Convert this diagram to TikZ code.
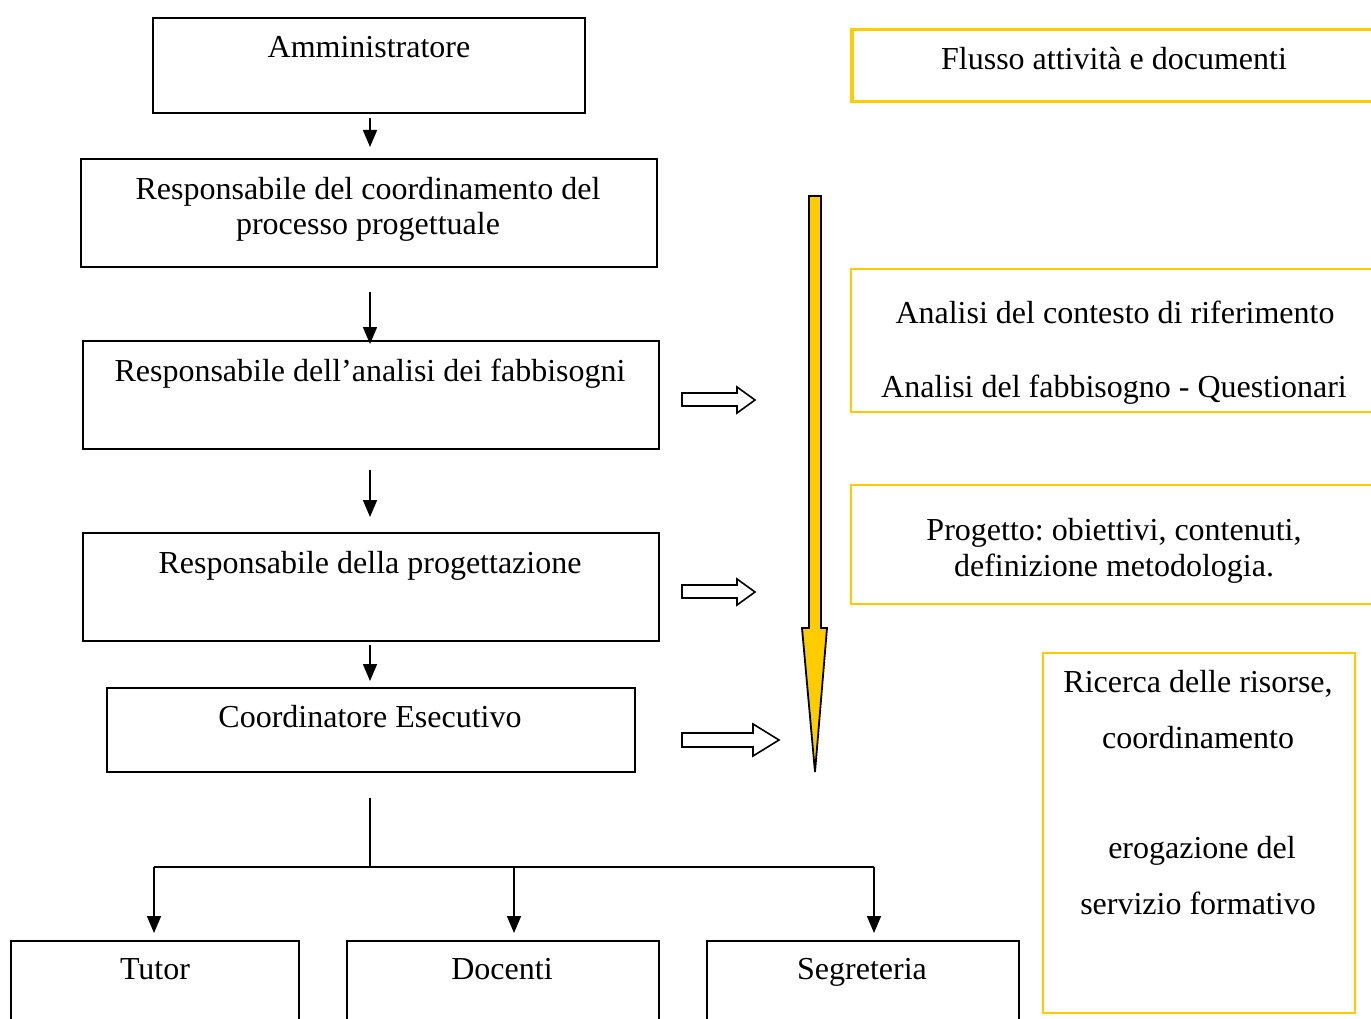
\documentclass[tikz,border=0pt]{standalone}
\usepackage{fontspec}
\setmainfont{Liberation Serif}
\usetikzlibrary{arrows.meta}
\definecolor{gold}{HTML}{FFCC00}
\frenchspacing
\begin{document}
\begin{tikzpicture}[x=1pt,y=-1pt,
  box/.style={draw=black, line width=1.6pt, inner sep=0pt, anchor=north west},
  ybox/.style={draw=gold, line width=1.6pt, inner sep=0pt, anchor=north west},
  txt/.style={font=\fontsize{32}{38}\selectfont, inner sep=0pt, anchor=base},
  arr/.style={-{Triangle[length=17pt,width=14pt]}, line width=1.6pt},
  hollow/.style={draw=black, line width=1.6pt, fill=white, line join=miter},
  bigarrow/.style={draw=black, line width=1.8pt, fill=gold, line join=miter}
]
\useasboundingbox (0,0) rectangle (1371,1019);
\clip (0,0) rectangle (1371,1019);

% left column boxes
\node[box, minimum width=432pt, minimum height=95pt] (adm) at (152,17) {};
\node[box, minimum width=576pt, minimum height=108pt] (rc) at (80,158) {};
\node[box, minimum width=576pt, minimum height=108pt] (ra) at (82,340) {};
\node[box, minimum width=576pt, minimum height=108pt] (rp) at (82,532) {};
\node[box, minimum width=528pt, minimum height=84pt] (ce) at (106,687) {};
\node[box, minimum width=288pt, minimum height=120pt] (tut) at (10,940) {};
\node[box, minimum width=312pt, minimum height=120pt] (doc) at (346,940) {};
\node[box, minimum width=312pt, minimum height=120pt] (seg) at (706,940) {};

\node[txt] (tadm) at (369,58) {Amministratore};
\node[txt] (trc1) at (368,200) {Responsabile del coordinamento del};
\node[txt] (trc2) at (368,235) {processo progettuale};
\node[txt] (tra) at (370,381) {Responsabile dell’analisi dei fabbisogni};
\node[txt] (trp) at (370,573) {Responsabile della progettazione};
\node[txt] (tce) at (370,727) {Coordinatore Esecutivo};
\node[txt] (ttut) at (155,979) {Tutor};
\node[txt] (tdoc) at (502,979) {Docenti};
\node[txt] (tseg) at (862,979) {Segreteria};

% vertical connectors
\draw[arr, shorten <=6pt, shorten >=11pt] (370,112) coordinate (a1) -- (a1 |- rc.north);
\draw[arr, shorten <=26pt, shorten >=-4pt] (370,266) coordinate (a2) -- (a2 |- ra.north);
\draw[arr, shorten <=22pt, shorten >=15pt] (370,448) coordinate (a3) -- (a3 |- rp.north);
\draw[arr, shorten <=5pt, shorten >=6pt] (370,640) coordinate (a4) -- (a4 |- ce.north);

% tree
\coordinate (j) at (370,867);
\coordinate (jl) at (154,867);
\coordinate (jd) at (514,867);
\coordinate (jr) at (874,867);
\draw[line width=1.6pt] ([yshift=-25pt]ce.south -| j) -- (j);
\draw[line width=1.6pt] (jl) -- (jr);
\draw[arr, shorten >=7pt] (jl) -- (jl |- tut.north);
\draw[arr, shorten >=7pt] (jd) -- (jd |- doc.north);
\draw[arr, shorten >=7pt] (jr) -- (jr |- seg.north);

% hollow arrows
\draw[hollow] (682,393) -- (737,393) -- (737,387) -- (755,400) -- (737,413) -- (737,406) -- (682,406) -- cycle;
\draw[hollow] (682,585) -- (737,585) -- (737,579) -- (755,592) -- (737,605) -- (737,598) -- (682,598) -- cycle;
\draw[hollow] (682,733) -- (753,733) -- (753,724) -- (779,740) -- (753,756) -- (753,747) -- (682,747) -- cycle;

% big yellow arrow
\draw[bigarrow] (809,196) -- (821,196) -- (821,628) -- (827,628) -- (815,772) -- (802,628) -- (809,628) -- cycle;

% right boxes
\node[ybox, line width=3.5pt, minimum width=560pt, minimum height=72pt] (flu) at (850,28) {};
\node[ybox, minimum width=560pt, minimum height=143pt] (ana) at (850,268) {};
\node[ybox, minimum width=560pt, minimum height=119pt] (pro) at (850,484) {};
\node[ybox, minimum width=312pt, minimum height=360pt] (ric) at (1042,652) {};

\node[txt] (tflu) at (1114,70) {Flusso attività e documenti};
\node[txt] (tana1) at (1115,323) {Analisi del contesto di riferimento};
\node[txt] (tana2) at (1114,397) {Analisi del fabbisogno - Questionari};
\node[txt] (tpro1) at (1114,540) {Progetto: obiettivi, contenuti,};
\node[txt] (tpro2) at (1114,576) {definizione metodologia.};
\node[txt] (tric1) at (1198,692) {Ricerca delle risorse,};
\node[txt] (tric2) at (1198,748) {coordinamento};
\node[txt] (tric3) at (1202,858) {erogazione del};
\node[txt] (tric4) at (1198,914) {servizio formativo};
\end{tikzpicture}
\end{document}
